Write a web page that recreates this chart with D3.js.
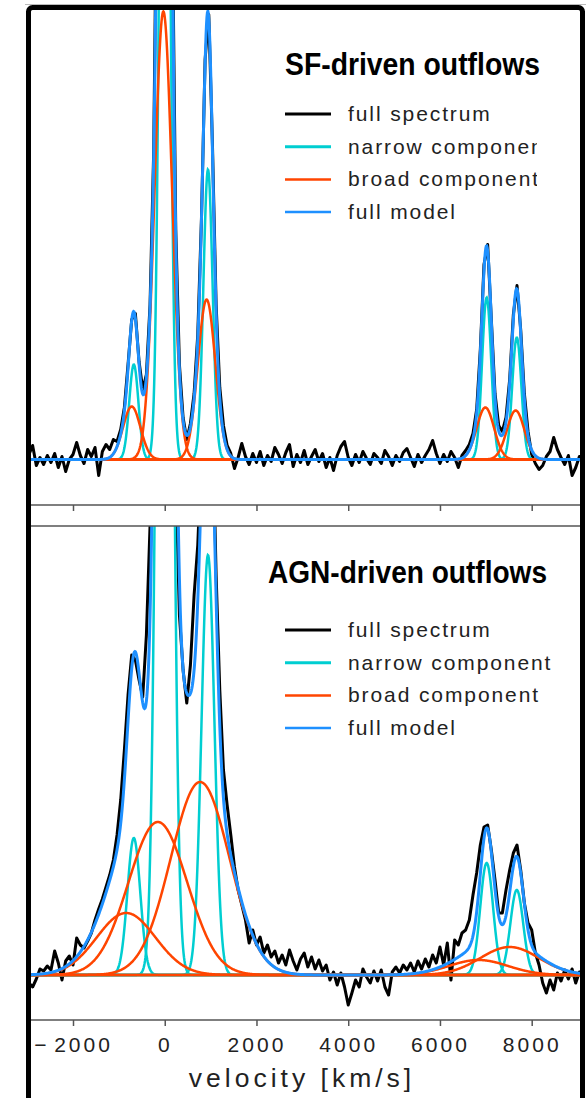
<!DOCTYPE html>
<html>
<head>
<meta charset="utf-8">
<script src="https://cdn.jsdelivr.net/npm/d3@7"></script>
<style>
  body { margin: 0; background: #fff; }
  svg { display: block; }
</style>
</head>
<body>
<svg id="chart"></svg>
<script>
// observed spectra, sampled every 80 km/s from -2960 km/s (flux, arbitrary units)
const velStart = -2960;
const velStep = 80;

const sfSpectrum = [
  0.05, 0.14, -0.06, 0.02, -0.05, 0.04, -0.03, 0.06, -0.08, 0.03,
  -0.12, 0.00, 0.05, 0.17, 0.04, -0.04, 0.10, 0.03, 0.12, -0.16,
  0.08, 0.15, 0.10, 0.20, 0.18,
  0.30, 0.52, 0.95, 1.40, 1.46, 0.98, 0.70, 0.85, 1.55, 3.10, 6.5, 12.1, 15.1,
  11.6, 5.7, 2.3, 0.95, 0.42, 0.20, 0.36, 0.66, 1.25, 2.4, 4.0, 4.45, 3.15, 1.55, 0.72, 0.34, 0.14,
  0.06, -0.09, 0.02, 0.16, 0.03, -0.05, 0.06, -0.03, 0.08, -0.06, 0.04, -0.02, 0.12, 0.05, -0.04, 0.07, 0.15, -0.07, 0.05,
  -0.03, 0.09, -0.05, 0.03, 0.10, -0.02, 0.06, -0.08, 0.02, -0.11, 0.04, 0.13, 0.18, 0.02, -0.06,
  0.05, -0.03, 0.08, 0.01, -0.05, 0.06, 0.02, -0.04, 0.09, 0.03, -0.06, 0.04, -0.02, 0.07, 0.11,
  0.02, -0.07, 0.05, -0.03, 0.04, 0.10, 0.19, 0.06, -0.04, 0.05, -0.02, 0.08, 0.02, -0.08, 0.04,
  0.09, 0.15, 0.26, 0.50, 1.10, 1.95, 2.15, 1.40, 0.66, 0.34, 0.28, 0.42, 0.80, 1.45, 1.74, 1.30, 0.66, 0.28, 0.05,
  -0.04, -0.10, -0.06, 0.03, 0.08, 0.22, 0.10, 0.02, -0.05, 0.04, -0.16, -0.08, 0.03, -0.05
];

const agnSpectrum = [
  -0.08, -0.12, -0.04, 0.06, 0.04, 0.09, 0.05, 0.24, 0.12, -0.05,
  0.14, 0.19, 0.10, 0.37, 0.30, 0.27, 0.34, 0.42, 0.55, 0.66,
  0.76, 0.88, 1.00, 1.15, 1.40,
  1.75, 2.25, 2.80, 3.20, 3.15, 2.95, 2.78, 3.40, 4.50, 6.0, 10.5, 14, 17,
  14, 10.5, 5.0, 3.6, 3.05, 2.72, 3.10, 3.80, 4.3, 5.2, 6.3, 6.6, 5.6, 4.0, 2.85, 2.05, 1.70,
  1.40, 1.08, 0.85, 0.70, 0.55, 0.32, 0.45, 0.30, 0.38, 0.22, 0.30, 0.18, 0.24, 0.12, 0.20, 0.10, 0.25, 0.14, 0.05,
  0.16, 0.22, 0.08, 0.18, 0.06, 0.15, 0.04, 0.10, -0.05, 0.03, -0.10, 0.02, -0.12, -0.30, -0.18,
  -0.05, -0.12, 0.06, -0.02, -0.08, 0.04, -0.06, 0.05, -0.12, -0.20, 0.03, 0.08, 0.02, 0.10, 0.05,
  0.12, 0.03, 0.14, 0.06, 0.16, 0.08, 0.20, 0.12, 0.28, 0.10, 0.32, -0.05, 0.35, 0.30, 0.42,
  0.45, 0.55, 0.80, 1.02, 1.30, 1.48, 1.50, 1.25, 0.95, 0.62, 0.62, 0.85, 1.05, 1.22, 1.30, 1.05, 0.72, 0.52, 0.45,
  0.22, 0.10, -0.08, -0.18, -0.05, -0.15, 0.02, -0.06, 0.05, -0.04, 0.06, -0.08, 0.03, -0.05
];

// gaussian fit components: [NII]6548, Halpha, [NII]6584, [SII]6716, [SII]6731
const sfNarrowCenter = [-674, 0, 943, 7018, 7675];
const sfNarrowAmp = [0.95, 10.7, 2.9, 1.62, 1.22];
const sfNarrowSigma = 100;
const sfBroadCenter = [-720, -30, 913, 6990, 7650];
const sfBroadAmp = [0.53, 4.48, 1.6, 0.52, 0.49];
const sfBroadSigma = 190;

const agnNarrowCenter = [-674, 0, 943, 7018, 7675];
const agnNarrowAmp = [1.37, 16, 4.2, 1.12, 0.85];
const agnNarrowSigma = 140;
const agnBroadCenter = [-842, -150, 772, 6840, 7520];
const agnBroadAmp = [0.62, 1.53, 1.93, 0.15, 0.28];
const agnBroadSigma = 640;

const velTicks = [-2000, 0, 2000, 4000, 6000, 8000];
const legendLabels = ["full spectrum", "narrow component", "broad component", "full model"];
const legendColors = ["#000000", "#00CED1", "#FF4500", "#1E90FF"];
const legendWidths = [3, 3, 2.5, 2.5];

const panels = [
  { title: "SF-driven outflows", spec: sfSpectrum,
    nc: sfNarrowCenter, na: sfNarrowAmp, ns: sfNarrowSigma,
    bc: sfBroadCenter, ba: sfBroadAmp, bs: sfBroadSigma,
    top: 10, bottom: 505, base: 459.5,
    titleX: 285, titleY: 75, titleLen: 255, legY: 114, legClip: 537, labels: false },
  { title: "AGN-driven outflows", spec: agnSpectrum,
    nc: agnNarrowCenter, na: agnNarrowAmp, ns: agnNarrowSigma,
    bc: agnBroadCenter, ba: agnBroadAmp, bs: agnBroadSigma,
    top: 526, bottom: 1020, base: 975,
    titleX: 268, titleY: 583, titleLen: 279, legY: 630, legClip: 586, labels: true }
];

const W = 586, H = 1098;
const left = 31, right = 580;
const textFont = "'Liberation Sans', Arial, sans-serif";

const svg = d3.select("#chart").attr("width", W).attr("height", H);

const x = d3.scaleLinear().domain([-2000, 8000]).range([73, 531.7]);
const modelVel = d3.range(-3100, 9300, 10);
const gauss = (v, c, a, s) => a * Math.exp(-((v - c) ** 2) / (2 * s * s));

panels.forEach((p, i) => {
  const y = d3.scaleLinear().domain([0, 4.5]).range([p.base, p.base - 450]);
  const line = d3.line().x(d => x(d[0])).y(d => y(d[1]));

  svg.append("clipPath").attr("id", "clip" + i)
    .append("rect")
    .attr("x", left).attr("y", p.top)
    .attr("width", right - left).attr("height", p.bottom - p.top);

  const g = svg.append("g").attr("clip-path", `url(#clip${i})`);

  // observed spectrum
  const spec = p.spec.map((f, k) => [velStart + k * velStep, f]);
  g.append("path").datum(spec)
    .attr("d", line)
    .attr("fill", "none")
    .attr("stroke", "#000")
    .attr("stroke-width", 3)
    .attr("stroke-linejoin", "round");

  // narrow and broad components from the fit parameters
  const narrow = p.nc.map((c, j) => modelVel.map(v => [v, gauss(v, c, p.na[j], p.ns)]));
  const broad = p.bc.map((c, j) => modelVel.map(v => [v, gauss(v, c, p.ba[j], p.bs)]));
  const total = modelVel.map((v, n) =>
    [v, d3.sum(narrow, s => s[n][1]) + d3.sum(broad, s => s[n][1])]);

  g.selectAll(".narrow").data(narrow).join("path")
    .attr("class", "narrow")
    .attr("d", line)
    .attr("fill", "none")
    .attr("stroke", legendColors[1])
    .attr("stroke-width", 2.5);

  g.selectAll(".broad").data(broad).join("path")
    .attr("class", "broad")
    .attr("d", line)
    .attr("fill", "none")
    .attr("stroke", legendColors[2])
    .attr("stroke-width", 2.5);

  g.append("path").datum(total)
    .attr("d", line)
    .attr("fill", "none")
    .attr("stroke", legendColors[3])
    .attr("stroke-width", 3);

  // axis at the bottom of the panel
  const axis = d3.axisBottom(x)
    .tickValues(velTicks)
    .tickSize(6)
    .tickSizeOuter(0)
    .tickPadding(11)
    .tickFormat(p.labels ? (d => d < 0 ? "\u2212\u200A" + Math.abs(d) : String(d)) : "");

  const ag = svg.append("g").attr("transform", `translate(0,${p.bottom})`).call(axis);
  ag.select(".domain").remove();
  ag.append("line")
    .attr("x1", left).attr("x2", right)
    .attr("stroke", "#555").attr("stroke-width", 1.5);
  ag.selectAll(".tick line").attr("stroke", "#555").attr("stroke-width", 1.5);
  ag.selectAll(".tick text")
    .attr("fill", "#222")
    .attr("font-size", 21)
    .attr("font-family", textFont)
    .style("letter-spacing", "3px");

  // top line of the lower panel
  if (i === 1) {
    svg.append("line")
      .attr("x1", left).attr("x2", right)
      .attr("y1", p.top).attr("y2", p.top)
      .attr("stroke", "#555").attr("stroke-width", 1.5);
  }

  // title + legend
  svg.append("text")
    .attr("x", p.titleX).attr("y", p.titleY)
    .attr("font-family", textFont)
    .attr("font-weight", "bold")
    .attr("font-size", 32)
    .attr("textLength", p.titleLen)
    .attr("lengthAdjust", "spacingAndGlyphs")
    .attr("fill", "#000")
    .text(p.title);

  // the upper legend is cut at its right side in the original figure
  svg.append("clipPath").attr("id", "legclip" + i)
    .append("rect")
    .attr("x", 0).attr("y", 0)
    .attr("width", p.legClip).attr("height", H);

  const leg = svg.append("g").attr("clip-path", `url(#legclip${i})`);
  legendLabels.forEach((lab, j) => {
    const ly = p.legY + j * 32.7;
    leg.append("line")
      .attr("x1", 285).attr("x2", 331)
      .attr("y1", ly).attr("y2", ly)
      .attr("stroke", legendColors[j])
      .attr("stroke-width", legendWidths[j]);
    leg.append("text")
      .attr("x", 348).attr("y", ly + 7)
      .attr("font-family", textFont)
      .attr("font-size", 21)
      .attr("fill", "#222")
      .style("letter-spacing", "1.9px")
      .text(lab);
  });
});

// x axis title
svg.append("text")
  .attr("x", 302).attr("y", 1086.5)
  .attr("text-anchor", "middle")
  .attr("font-family", textFont)
  .attr("font-size", 26.5)
  .attr("fill", "#222")
  .style("letter-spacing", "4px")
  .text("velocity [km/s]");

// outer frame
svg.append("line")
  .attr("x1", 25).attr("x2", W)
  .attr("y1", 4.5).attr("y2", 4.5)
  .attr("stroke", "#bbb").attr("stroke-width", 1);
svg.append("rect")
  .attr("x", 28.5).attr("y", 7.5)
  .attr("width", 554).attr("height", 1200)
  .attr("rx", 4)
  .attr("fill", "none")
  .attr("stroke", "#000")
  .attr("stroke-width", 5);
</script>
</body>
</html>
